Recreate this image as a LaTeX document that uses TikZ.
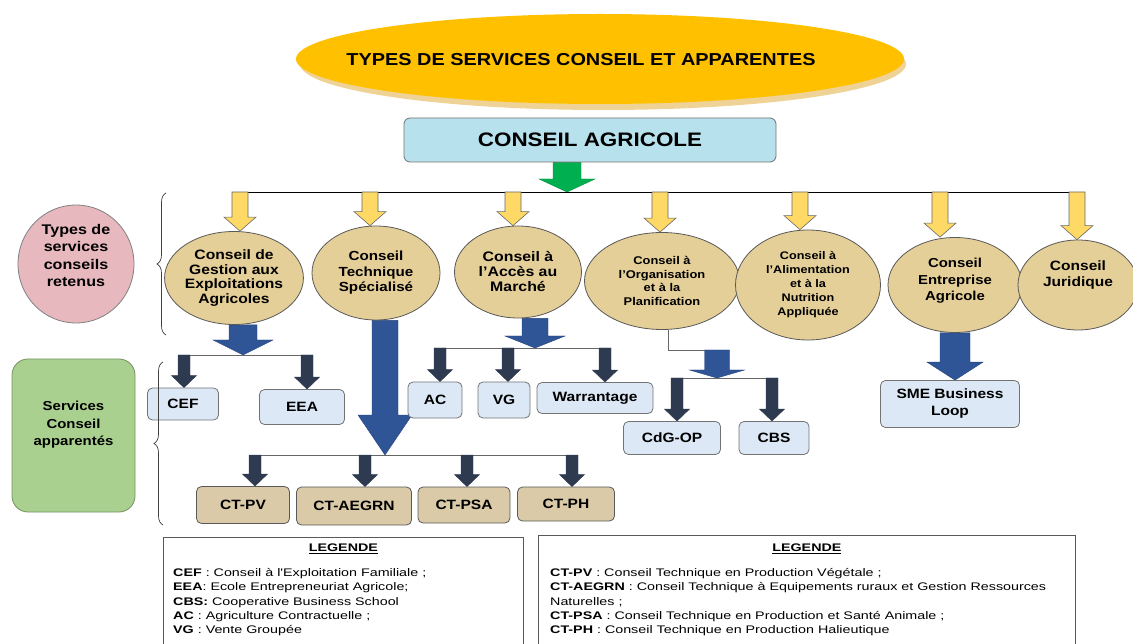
\documentclass[tikz,border=0pt]{standalone}
\usepackage{fontspec}
\setmainfont{Liberation Sans}[FakeStretch=1.15]
\newfontfamily\titlefont{Liberation Sans}[FakeStretch=1.15]
\newfontfamily\legendfont{Liberation Sans}[FakeStretch=1.3]
\usetikzlibrary{positioning, shapes.geometric, calc, backgrounds,
                 decorations.pathreplacing}
\definecolor{titlecolor}{RGB}{255,192,0}
\definecolor{shadecolor}{RGB}{238,210,150}
\definecolor{watercolor}{RGB}{183,225,236}
\definecolor{parchcolor}{RGB}{229,207,152}
\definecolor{pinkcolor}{RGB}{231,185,191}
\definecolor{leafcolor}{RGB}{169,208,142}
\definecolor{yellowcolor}{RGB}{255,217,102}
\definecolor{greencolor}{RGB}{0,176,80}
\definecolor{bluecolor}{RGB}{47,85,151}
\definecolor{navycolor}{RGB}{46,58,79}
\definecolor{skycolor}{RGB}{220,232,245}
\definecolor{sandcolor}{RGB}{218,202,168}
\newcommand{\fsz}[2]{\fontsize{#1}{#2}\selectfont}
\tikzset{
  blockarrow/.style args={#1/#2/#3}{to path={
      let \p1=(\tikztostart), \p2=(\tikztotarget) in
      (\x1-#1/2,\y1) -- (\x1-#1/2,\y2+#3) -- (\x1-#2/2,\y2+#3) -- (\x1,\y2)
      -- (\x1+#2/2,\y2+#3) -- (\x1+#1/2,\y2+#3) -- (\x1+#1/2,\y1) -- cycle}},
  yarrow/.style={blockarrow=16pt/32pt/14pt, fill=yellowcolor,
                 draw=black!60, line width=0.6pt},
  garrow/.style={blockarrow=28pt/56pt/13pt, fill=greencolor,
                 draw=greencolor!80!black, line width=0.4pt},
  barrow/.style={blockarrow=#1, fill=bluecolor, draw=bluecolor!80!black,
                 line width=0.4pt},
  narrow/.style={blockarrow=12pt/25pt/12pt, fill=navycolor, draw=navycolor},
  joint/.style={draw=black!60, line width=0.8pt},
  bar/.style={draw=black, line width=0.8pt},
  brace/.style={decorate, decoration={brace, amplitude=9pt},
                draw=black!75, line width=0.7pt},
  banner/.style={ellipse, fill=titlecolor, minimum width=608,
                 minimum height=90, inner sep=0pt},
  bannershade/.style={ellipse, fill=shadecolor, minimum width=606,
                      minimum height=92, inner sep=0pt},
  bannertext/.style={font=\titlefont\bfseries\fsz{17.3}{20}, inner sep=0pt},
  headbox/.style={rectangle, rounded corners=6pt, fill=watercolor,
                  draw=black!55, line width=0.8pt, minimum width=372,
                  minimum height=44, font=\titlefont\bfseries\fsz{19.5}{22}},
  service/.style 2 args={ellipse, draw=black!65, fill=parchcolor,
                         line width=0.8pt, inner sep=0pt, align=center,
                         font=\bfseries\fsz{#1}{#2}},
  category/.style={ellipse, draw=black!50, fill=pinkcolor, line width=0.8pt,
                   inner sep=0pt, align=center, font=\bfseries\fsz{14}{17.5}},
  related/.style={rectangle, rounded corners=16pt, draw=leafcolor!70!black,
                  fill=leafcolor, line width=0.8pt, align=center,
                  font=\bfseries\fsz{13}{17.5}},
  skybox/.style={rectangle, rounded corners=5pt, draw=black!55,
                 fill=skycolor, line width=0.8pt, inner sep=0pt,
                 align=center, font=\bfseries\fsz{13.5}{17}},
  sandbox/.style={rectangle, rounded corners=5pt, draw=black!65,
                  fill=sandcolor, line width=0.8pt, inner sep=0pt,
                  align=center, font=\bfseries\fsz{13.5}{17}},
  legbox/.style={rectangle, draw=black!65, line width=0.8pt, inner sep=0pt},
  legtitle/.style={font=\legendfont\bfseries\fsz{11}{13}, inner sep=0pt},
  legtext/.style={font=\legendfont\fsz{11}{14.4}, align=left, inner sep=0pt},
}

\begin{document}
\begin{tikzpicture}[x=1pt, y=-1pt]
  \useasboundingbox (0,0) rectangle (1133,644);

  % titre
  \node[bannershade] (titleshade) at (603,64) {};
  \node[banner] (title) at (600,59) {};
  \node[bannertext] (titletext) at (581,60)
    {TYPES DE SERVICES CONSEIL ET APPARENTES};

  \node[headbox] (agri) at (590,140) {CONSEIL AGRICOLE};

  % Types de services
  \node[category, minimum width=116, minimum height=118]
    (types) at (76,264) {Types de\\services\\conseils\\retenus\\[0pt]\mbox{}};
  \node[service={13.6}{14.6}, minimum width=132, minimum height=93]
    (gestion) at (234,278) {Conseil de\\Gestion aux\\Exploitations\\Agricoles};
  \node[service={13.2}{15.5}, minimum width=128, minimum height=94]
    (technique) at (376,273) {Conseil\\Technique\\Spécialisé};
  \node[service={13.8}{15}, minimum width=127, minimum height=92]
    (marche) at (518,272) {Conseil à\\l'Accès au\\Marché};
  \node[service={11.2}{13.8}, minimum width=155, minimum height=97]
    (organisation) at (662,281)
    {Conseil à\\l'Organisation\\et à la\\Planification};
  \node[service={11}{14}, minimum width=145, minimum height=110]
    (nutrition) at (808,285)
    {Conseil à\\l'Alimentation\\et à la\\Nutrition\\Appliquée};
  \node[service={13}{16.5}, minimum width=134, minimum height=95]
    (entreprise) at (955,285) {Conseil\\Entreprise\\Agricole\\[-6pt]\mbox{}};
  \node[service={13.5}{16.5}, minimum width=120, minimum height=90]
    (juridique) at (1078,285) {Conseil\\Juridique\\[6pt]\mbox{}};

  % Services apparentes
  \node[related, minimum width=123, minimum height=153]
    (apparentes) at (73.5,435.5) {Services\\Conseil\\apparentés\\[6pt]\mbox{}};
  \node[skybox, minimum width=71, minimum height=32] (cef) at (183,404) {CEF};
  \node[skybox, minimum width=85, minimum height=35] (eea) at (302,407) {EEA};
  \node[skybox, minimum width=54, minimum height=36] (ac) at (435,400) {AC};
  \node[skybox, minimum width=52, minimum height=36] (vg) at (504,400) {VG};
  \node[skybox, minimum width=116, minimum height=31]
    (warrantage) at (595,398) {Warrantage};
  \node[skybox, minimum width=97, minimum height=33] (cdgop) at (672,438) {CdG-OP};
  \node[skybox, minimum width=70, minimum height=33] (cbs) at (774,438) {CBS};
  \node[skybox, minimum width=139, minimum height=47]
    (sme) at (950,404) {SME Business\\Loop};
  \node[sandbox, minimum width=93, minimum height=37] (ctpv) at (243,505) {CT-PV};
  \node[sandbox, minimum width=115, minimum height=38]
    (ctaegrn) at (354,506) {CT-AEGRN};
  \node[sandbox, minimum width=92, minimum height=36] (ctpsa) at (464,505) {CT-PSA};
  \node[sandbox, minimum width=97, minimum height=34] (ctph) at (566,504) {CT-PH};

  % accolades
  \draw[brace] (166,335) -- (166,193);
  \draw[brace] (163,525) -- (163,362);

  % Legendes
  \node[legbox, minimum width=360, minimum height=115, anchor=north west]
    (legend1) at (163,537) {};
  \node[legtitle, below=7pt of legend1.north] (legend1title) {\underline{LEGENDE}};
  \node[legtext, anchor=north west] (legend1text) at (173,568)
    {\textbf{CEF} : Conseil à l'Exploitation Familiale ;\\
     \textbf{EEA}: Ecole Entrepreneuriat Agricole;\\
     \textbf{CBS:} Cooperative Business School\\
     \textbf{AC} : Agriculture Contractuelle ;\\
     \textbf{VG} : Vente Groupée};
  \node[legbox, minimum width=537, minimum height=117, anchor=north west]
    (legend2) at (538,535) {};
  \node[legtitle, below=9pt of legend2.north] (legend2title) {\underline{LEGENDE}};
  \node[legtext, anchor=north west] (legend2text) at (550,568)
    {\textbf{CT-PV} : Conseil Technique en Production Végétale ;\\
     \textbf{CT-AEGRN} : Conseil Technique à Equipements ruraux et Gestion Ressources\\
     Naturelles ;\\
     \textbf{CT-PSA} : Conseil Technique en Production et Santé Animale ;\\
     \textbf{CT-PH} : Conseil Technique en Production Halieutique};

  % fleches
  \coordinate (split) at (567,192);
  \coordinate (t1) at (240,192);
  \coordinate (t2) at (370,192);
  \coordinate (t3) at (513,192);
  \coordinate (t4) at (660,192);
  \coordinate (t5) at (800,192);
  \coordinate (t6) at (940,192);
  \coordinate (t7) at (1077,192);

  \coordinate (g1) at (184,355);
  \coordinate (g2) at (307,355);
  \coordinate (c1) at (255,455);
  \coordinate (c2) at (365,455);
  \coordinate (c3) at (467,455);
  \coordinate (c4) at (572,455);
  \coordinate (m1) at (440,348);
  \coordinate (m2) at (508,348);
  \coordinate (m3) at (605,348);
  \coordinate (o0) at (717,350);
  \coordinate (o1) at (677,378);
  \coordinate (o2) at (772,378);

  \begin{scope}[on background layer]
    \draw[bar] (t1) -- (t7);
    \draw[garrow] ([xshift=-23pt]agri.south) to (split);
    \draw[yarrow] (t1) to (gestion.north);
    \draw[yarrow] (t2) to (technique.north);
    \draw[yarrow] (t3) to (marche.north);
    \draw[yarrow] (t4) to (organisation.north);
    \draw[yarrow] (t5) to (nutrition.north);
    \draw[yarrow] (t6) to (entreprise.north);
    \draw[yarrow] (t7) to (juridique.north);

    \draw[joint] (g1) -- (g2);
    \draw[barrow=28pt/60pt/15pt] ([xshift=9pt]gestion.south) to (g1);
    \draw[narrow] (g1) to (cef.north);
    \draw[narrow] (g2) to (eea.north);

    \draw[joint] (c1) -- (c4);
    \draw[barrow=26pt/54pt/40pt] ([xshift=9pt]technique.south) to (c2);
    \draw[narrow] (c1) to (ctpv.north);
    \draw[narrow] (c2) to (ctaegrn.north);
    \draw[narrow] (c3) to (ctpsa.north);
    \draw[narrow] (c4) to (ctph.north);

    \draw[joint] (m1) -- (m3);
    \draw[barrow=26pt/60pt/12pt] ([xshift=17pt]marche.south) to (m1);
    \draw[narrow] (m1) to (ac.north);
    \draw[narrow] (m2) to (vg.north);
    \draw[narrow] (m3) to (warrantage.north);

    \draw[joint] ([xshift=6pt]organisation.south) |- (o0);
    \draw[joint] (o1) -- (o2);
    \draw[barrow=25pt/55pt/8pt] (o0) to (o1);
    \draw[narrow] (o1) to (cdgop.north);
    \draw[narrow] (o2) to (cbs.north);

    \draw[barrow=30pt/56pt/18pt] (entreprise.south) to (sme.north);
  \end{scope}

\end{tikzpicture}
\end{document}
